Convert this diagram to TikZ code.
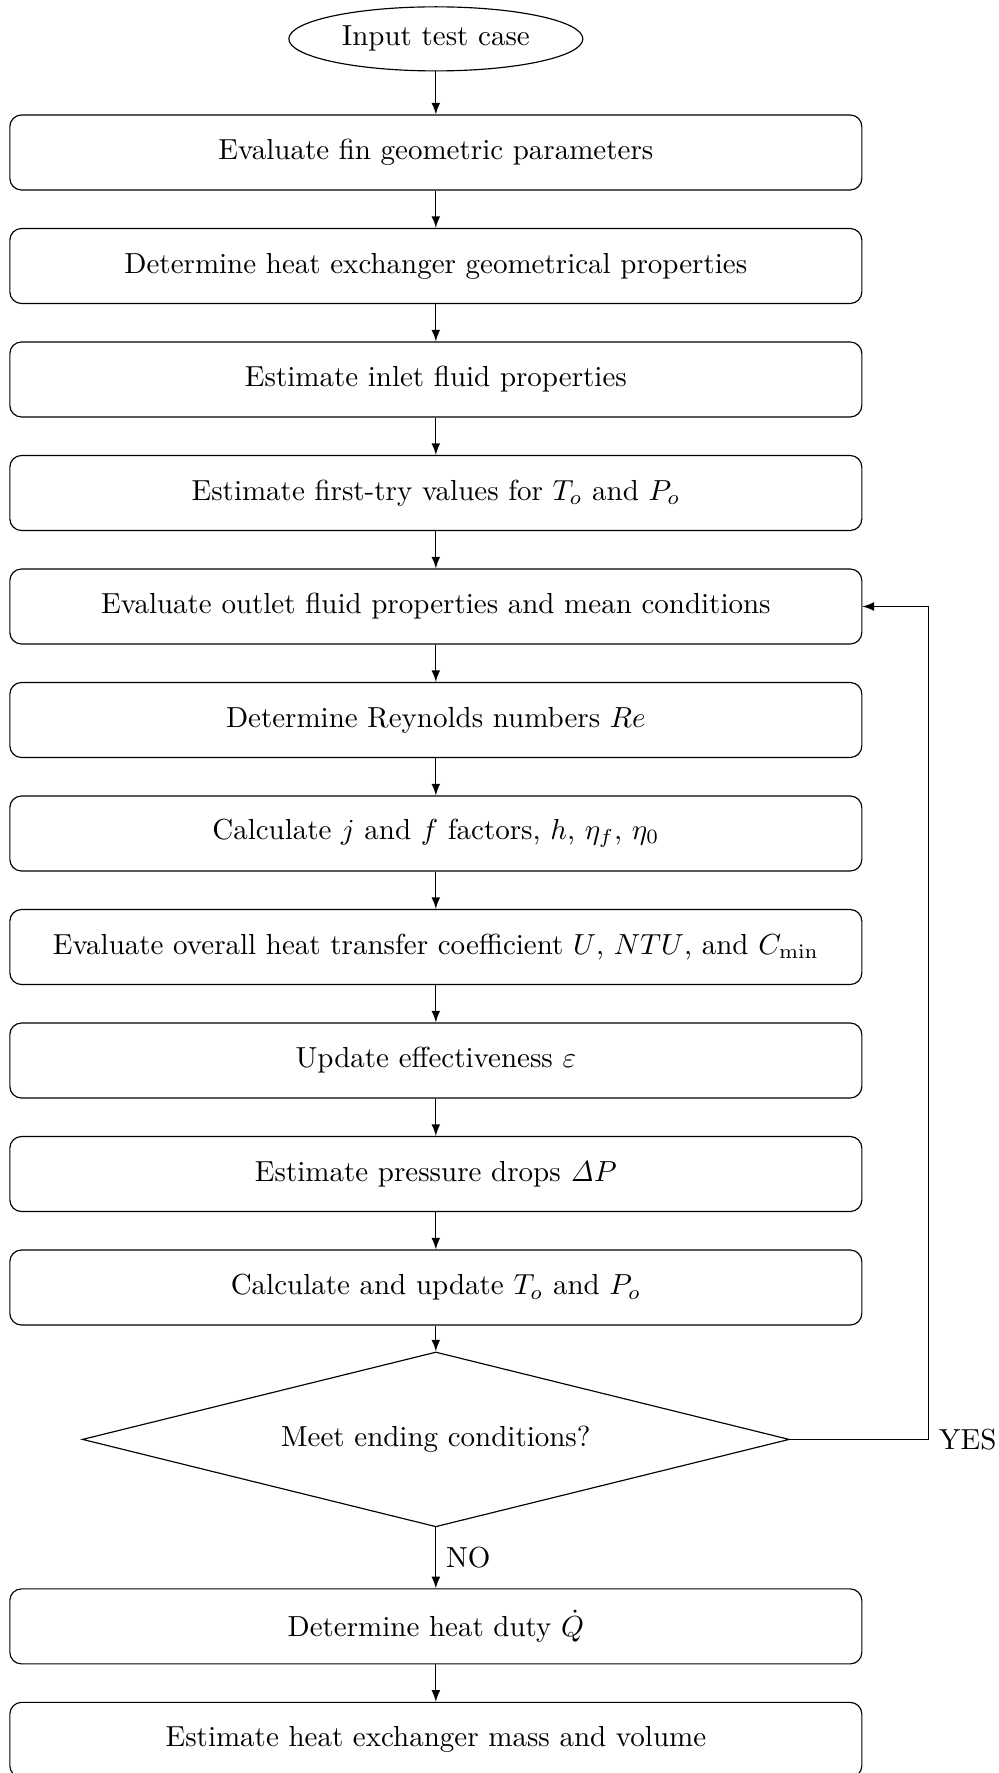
\documentclass[tikz,border=0pt]{standalone}
\usepackage{amsmath}
\usepackage{amssymb}
\usetikzlibrary{positioning,shapes.geometric}

\begin{document}
\begin{tikzpicture}[
    node distance=12.88pt,
    startstop/.style={ellipse, draw, minimum width=101.4pt, minimum height=22.1pt, inner sep=1pt},
    process/.style={rectangle, rounded corners, draw, minimum width=293.8pt, minimum height=25.86pt, align=center},
    decision/.style={diamond, draw, aspect=4.04, minimum width=243.8pt, minimum height=60.3pt, inner sep=1pt},
    line/.style={draw, -latex}
  ]
  \useasboundingbox (-150.3pt,0pt) rectangle (194.1pt,-611.4pt);

  \node[startstop] (input) at (0pt,-13.4pt) {Input test case};
  \node[process, below=14.8pt of input] (fin) {Evaluate fin geometric parameters};
  \node[process, below=of fin] (geom) {Determine heat exchanger geometrical properties};
  \node[process, below=of geom] (inlet) {Estimate inlet fluid properties};
  \node[process, below=of inlet] (first) {Estimate first-try values for $T_o$ and $P_o$};
  \node[process, below=of first] (outlet) {Evaluate outlet fluid properties and mean conditions};
  \node[process, below=of outlet] (reyn) {Determine Reynolds numbers $Re$};
  \node[process, below=of reyn] (jf) {Calculate $j$ and $f$ factors, $h$, $\eta_f$, $\eta_0$};
  \node[process, below=of jf] (ntu) {Evaluate overall heat transfer coefficient $U$, $NTU$, and $C_{\min}$};
  \node[process, below=of ntu] (eff) {Update effectiveness $\varepsilon$};
  \node[process, below=of eff] (dp) {Estimate pressure drops $\mathit{\Delta}P$};
  \node[process, below=of dp] (update) {Calculate and update $T_o$ and $P_o$};
  \node[decision, below=8.9pt of update] (cond) {Meet ending conditions?};
  \node[process, below=21pt of cond] (duty) {Determine heat duty $\dot{Q}$};
  \node[process, below=of duty] (mass) {Estimate heat exchanger mass and volume};

  % main chain
  \draw[line] (input) -- (fin);
  \draw[line] (fin) -- (geom);
  \draw[line] (geom) -- (inlet);
  \draw[line] (inlet) -- (first);
  \draw[line] (first) -- (outlet);
  \draw[line] (outlet) -- (reyn);
  \draw[line] (reyn) -- (jf);
  \draw[line] (jf) -- (ntu);
  \draw[line] (ntu) -- (eff);
  \draw[line] (eff) -- (dp);
  \draw[line] (dp) -- (update);
  \draw[line] (update) -- (cond);
  \draw[line] (cond) -- node[right] (no) {NO} (duty);
  \draw[line] (duty) -- (mass);

  % loop back
  \coordinate (back) at ([xshift=22.8pt]outlet.east);
  \node[right] (yes) at (cond.east -| back) {YES};
  \draw[line] (cond.east) -- (cond.east -| back) |- (outlet.east);
\end{tikzpicture}
\end{document}
